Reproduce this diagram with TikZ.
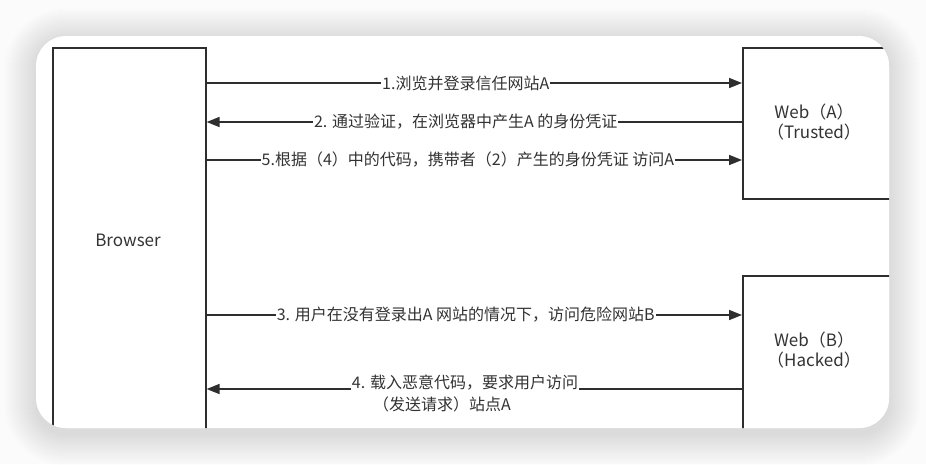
\documentclass[tikz,border=0pt]{standalone}
\usepackage{fontspec}
\setmainfont{Noto Sans CJK SC}
\usetikzlibrary{arrows.meta}
\definecolor{ln}{HTML}{2E2E2E}
\definecolor{tx}{HTML}{333333}
\definecolor{bg}{HTML}{FBFBFB}
\begin{document}
\begin{tikzpicture}[x=1pt,y=-1pt,
  shadowlayer/.style={fill=black,opacity=0.0055},
  cardbox/.style={draw=none,fill=white,rounded corners=30pt},
  boxnode/.style={draw=ln,line width=1.6pt,fill=white,anchor=north west,inner sep=0pt},
  boxtext/.style={text=tx,font=\fontsize{17}{20}\selectfont,align=center,inner sep=0pt},
  lbl/.style={text=tx,font=\fontsize{16}{18}\selectfont,fill=white,inner sep=1pt},
  lbltxt/.style={text=tx,font=\fontsize{16}{18}\selectfont,inner sep=1pt},
  conn/.style={draw=ln,line width=1.6pt},
  arr/.style={conn,-{Triangle[length=13pt,width=10pt]}}]
\useasboundingbox[fill=bg] (0,0) rectangle (926,464);
\foreach \i in {1,...,32}{
  \fill[shadowlayer,rounded corners=30pt+\i pt] (36-\i,36-\i+4) rectangle (889+\i,428+\i+6);
}
\fill[cardbox] (36,36) rectangle (889,428);
\begin{scope}
\clip[rounded corners=30pt] (36,36) rectangle (889,428);
\node[boxnode,minimum width=153pt,minimum height=400pt] (browser) at (52,47) {};
\node[boxnode,minimum width=180pt,minimum height=151pt] (webA) at (742,47) {};
\node[boxnode,minimum width=180pt,minimum height=180pt] (webB) at (742,275) {};
\node[boxtext] (tbrowser) at (128,240) {Browser};
\node[boxtext] (twebA) at (814,122) {Web（A）\\（Trusted）};
\node[boxtext] (twebB) at (814,350) {Web（B）\\（Hacked）};
% arrows
\draw[arr] (browser.east |- 0,83) -- node[lbl,pos=0.484] (l1) {1.浏览并登录信任网站A} (webA.west |- 0,83);
\draw[arr] (webA.west |- 0,122) -- node[lbl,pos=0.516] (l2) {2. 通过验证，在浏览器中产生A 的身份凭证} (browser.east |- 0,122);
\draw[arr] (browser.east |- 0,160) -- node[lbl,pos=0.488] (l5) {5.根据（4）中的代码，携带者（2）产生的身份凭证 访问A} (webA.west |- 0,160);
\draw[arr] (browser.east |- 0,315) -- node[lbl,pos=0.484] (l3) {3. 用户在没有登录出A 网站的情况下，访问危险网站B} (webB.west |- 0,315);
\node[lbltxt,anchor=base] (l4a) at (465,388) {4. 载入恶意代码，要求用户访问};
\node[lbltxt,anchor=base] (l4b) at (442,410) {（发送请求）站点A};
\draw[conn] (webB.west |- 0,389) -- (l4a.east |- 0,389);
\draw[arr] (l4a.west |- 0,389) -- (browser.east |- 0,389);
\end{scope}
\end{tikzpicture}
\end{document}
